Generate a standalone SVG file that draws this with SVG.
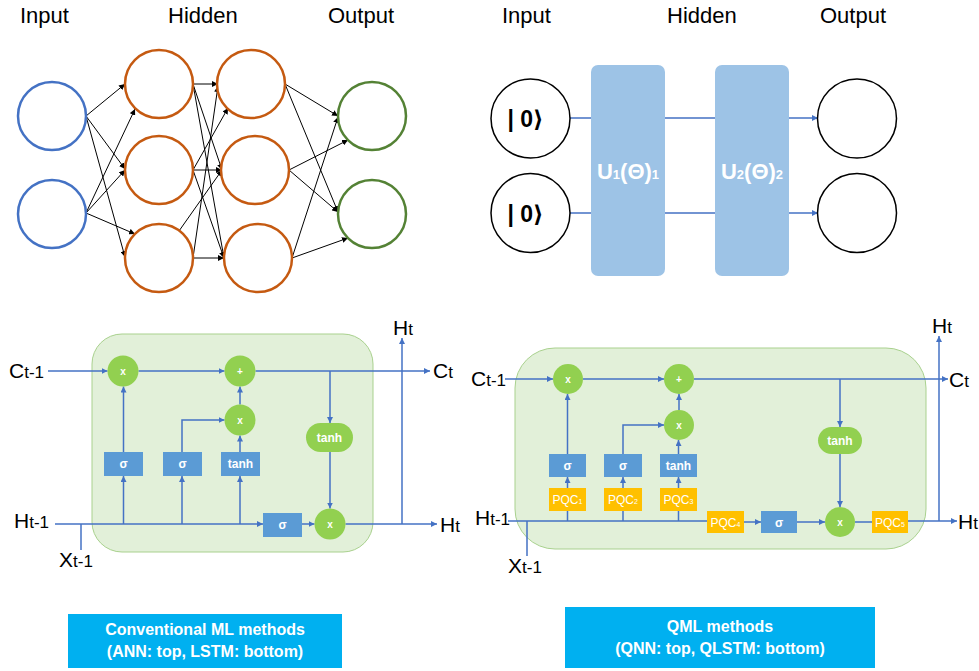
<svg xmlns="http://www.w3.org/2000/svg" width="979" height="671" viewBox="0 0 979 671">
<style>
text{font-family:"Liberation Sans","DejaVu Sans",sans-serif}
.hdr{font-size:22px;fill:#000}
.in{fill:#fff;stroke:#4472C4;stroke-width:2.5}
.hid{fill:#fff;stroke:#C55A11;stroke-width:2.5}
.out{fill:#fff;stroke:#548235;stroke-width:2.5}
.ann line{stroke:#000;stroke-width:1}
.q{fill:#fff;stroke:#000;stroke-width:1.5}
.ket{font-size:23px;font-weight:bold;text-anchor:middle}
.gate{fill:#9DC3E6}
.gt{font-size:22px;font-weight:bold;fill:#fff;text-anchor:middle}
.wire{stroke:#4472C4;stroke-width:1.5;fill:none}
.cell{fill:#E2F0D9;stroke:#A9D18E;stroke-width:1}
.op{fill:#92D050}
.opt{font-size:10px;font-weight:bold;fill:#fff;text-anchor:middle}
.box{fill:#5B9BD5}
.bt{font-size:12px;font-weight:bold;fill:#fff;text-anchor:middle}
.pqc{fill:#FFC000}
.pt{font-size:12px;fill:#fff;text-anchor:middle}
.lab{font-size:21px;fill:#000}
.sub{font-size:17px}
.cap{fill:#00B0F0}
.ct{font-size:16px;font-weight:bold;fill:#fff;text-anchor:middle}
</style>
<defs>
<marker id="ab" viewBox="0 0 6 6" refX="6" refY="3" markerWidth="6" markerHeight="6" markerUnits="userSpaceOnUse" orient="auto"><path d="M0,0 L6,3 L0,6 z" fill="#000"/></marker>
<marker id="aq" viewBox="0 0 6 6" refX="6" refY="3" markerWidth="6" markerHeight="6" markerUnits="userSpaceOnUse" orient="auto"><path d="M0,0 L6,3 L0,6 z" fill="#4472C4"/></marker>
</defs>

<!-- ANN -->
<g id="ann-headers">
<text class="hdr" x="20" y="23">Input</text>
<text class="hdr" x="168" y="23">Hidden</text>
<text class="hdr" x="328" y="23">Output</text>
</g>
<g id="ann-connectors" class="ann">
<line x1="86" y1="116" x2="125" y2="84" marker-end="url(#ab)"/>
<line x1="86" y1="116" x2="125" y2="169" marker-end="url(#ab)"/>
<line x1="86" y1="116" x2="125" y2="257" marker-end="url(#ab)"/>
<line x1="86" y1="213" x2="135" y2="109" marker-end="url(#ab)"/>
<line x1="86" y1="213" x2="125" y2="170" marker-end="url(#ab)"/>
<line x1="86" y1="213" x2="135" y2="234" marker-end="url(#ab)"/>
<line x1="193" y1="84" x2="218" y2="84" marker-end="url(#ab)"/>
<line x1="193" y1="84" x2="222" y2="170" marker-end="url(#ab)"/>
<line x1="193" y1="84" x2="224" y2="258" marker-end="url(#ab)"/>
<line x1="193" y1="170" x2="228" y2="108" marker-end="url(#ab)"/>
<line x1="193" y1="170" x2="222" y2="170" marker-end="url(#ab)"/>
<line x1="193" y1="170" x2="224" y2="258" marker-end="url(#ab)"/>
<line x1="179" y1="231" x2="222" y2="170" marker-end="url(#ab)"/>
<line x1="193" y1="258" x2="218" y2="86" marker-end="url(#ab)"/>
<line x1="193" y1="258" x2="224" y2="258" marker-end="url(#ab)"/>
<line x1="285" y1="84" x2="338" y2="116" marker-end="url(#ab)"/>
<line x1="285" y1="84" x2="338" y2="212" marker-end="url(#ab)"/>
<line x1="289" y1="170" x2="348" y2="140" marker-end="url(#ab)"/>
<line x1="289" y1="170" x2="338" y2="212" marker-end="url(#ab)"/>
<line x1="292" y1="258" x2="338" y2="117" marker-end="url(#ab)"/>
<line x1="292" y1="258" x2="348" y2="238" marker-end="url(#ab)"/>
</g>
<g id="ann-in1"><circle class="in" cx="52" cy="116" r="34"/></g>
<g id="ann-in2"><circle class="in" cx="52" cy="214" r="34"/></g>
<g id="ann-h11"><circle class="hid" cx="159" cy="84" r="34"/></g>
<g id="ann-h12"><circle class="hid" cx="159" cy="170" r="34"/></g>
<g id="ann-h13"><circle class="hid" cx="159" cy="258" r="34"/></g>
<g id="ann-h21"><circle class="hid" cx="251" cy="84" r="34"/></g>
<g id="ann-h22"><circle class="hid" cx="255" cy="170" r="34"/></g>
<g id="ann-h23"><circle class="hid" cx="258" cy="258" r="34"/></g>
<g id="ann-o1"><circle class="out" cx="372" cy="116" r="34"/></g>
<g id="ann-o2"><circle class="out" cx="372" cy="214" r="34"/></g>

<!-- QNN -->
<g id="qnn-headers">
<text class="hdr" x="502" y="23">Input</text>
<text class="hdr" x="667" y="23">Hidden</text>
<text class="hdr" x="820" y="23">Output</text>
</g>
<g id="qnn-connectors">
<path class="wire" d="M570,118 H591 M665,118 H715 M570,213 H591 M665,213 H715"/>
<path class="wire" d="M789,118 H818" marker-end="url(#aq)"/>
<path class="wire" d="M789,213 H818" marker-end="url(#aq)"/>
</g>
<g id="qnn-q1"><circle class="q" cx="530.5" cy="118.5" r="39.5"/><text class="ket" x="525.5" y="127">| 0⟩</text></g>
<g id="qnn-q2"><circle class="q" cx="530.5" cy="213" r="39.5"/><text class="ket" x="525.5" y="222">| 0⟩</text></g>
<g id="qnn-u1"><rect class="gate" x="591" y="65" width="74" height="211" rx="7"/><text class="gt" x="628" y="179">U<tspan font-size="13">1</tspan>(Θ)<tspan font-size="13">1</tspan></text></g>
<g id="qnn-u2"><rect class="gate" x="715" y="65" width="74" height="211" rx="7"/><text class="gt" x="752" y="179">U<tspan font-size="13">2</tspan>(Θ)<tspan font-size="13">2</tspan></text></g>
<g id="qnn-o1"><circle class="q" cx="857" cy="118.5" r="39.5"/></g>
<g id="qnn-o2"><circle class="q" cx="857" cy="213" r="39.5"/></g>

<!-- LSTM -->
<g id="lstm-cell"><rect class="cell" x="92" y="334" width="281" height="218" rx="30"/></g>
<g id="lstm-connectors">
<path class="wire" d="M48,371 H107.5" marker-end="url(#aq)"/>
<path class="wire" d="M138.5,371 H224.5" marker-end="url(#aq)"/>
<path class="wire" d="M255.5,371 H430" marker-end="url(#aq)"/>
<path class="wire" d="M330,371 V423" marker-end="url(#aq)"/>
<path class="wire" d="M330,452 V508.5" marker-end="url(#aq)"/>
<path class="wire" d="M240,404.5 V386.5" marker-end="url(#aq)"/>
<path class="wire" d="M123.5,452 V386.5" marker-end="url(#aq)"/>
<path class="wire" d="M182,452 V420 H224.5" marker-end="url(#aq)"/>
<path class="wire" d="M240,452 V435.5" marker-end="url(#aq)"/>
<path class="wire" d="M55,524 H263" marker-end="url(#aq)"/>
<path class="wire" d="M302,524 H314.5" marker-end="url(#aq)"/>
<path class="wire" d="M345.5,524 H437" marker-end="url(#aq)"/>
<path class="wire" d="M123.5,524 V476" marker-end="url(#aq)"/>
<path class="wire" d="M182,524 V476" marker-end="url(#aq)"/>
<path class="wire" d="M240,524 V476" marker-end="url(#aq)"/>
<path class="wire" d="M402,524 V338" marker-end="url(#aq)"/>
<path class="wire" d="M81,524 V550"/>
</g>
<g id="lstm-mul1"><circle class="op" cx="123" cy="371" r="15.5"/><text class="opt" x="123" y="375">x</text></g>
<g id="lstm-add"><circle class="op" cx="240" cy="371" r="15.5"/><text class="opt" x="240" y="375">+</text></g>
<g id="lstm-mul2"><circle class="op" cx="240" cy="420" r="15.5"/><text class="opt" x="240" y="424">x</text></g>
<g id="lstm-mul3"><circle class="op" cx="330" cy="524" r="15.5"/><text class="opt" x="330" y="528">x</text></g>
<g id="lstm-tanh2"><rect class="op" x="306" y="423" width="47" height="29" rx="14.5"/><text class="bt" x="329.5" y="442">tanh</text></g>
<g id="lstm-sig1"><rect class="box" x="104" y="452" width="39" height="24"/><text class="bt" x="123.5" y="468">σ</text></g>
<g id="lstm-sig2"><rect class="box" x="163" y="452" width="39" height="24"/><text class="bt" x="182.5" y="468">σ</text></g>
<g id="lstm-tanh1"><rect class="box" x="221" y="452" width="39" height="24"/><text class="bt" x="240.5" y="468">tanh</text></g>
<g id="lstm-sig3"><rect class="box" x="263" y="513" width="39" height="24"/><text class="bt" x="282.5" y="529">σ</text></g>
<g id="lstm-labels">
<text class="lab" x="9" y="378">C<tspan class="sub">t-1</tspan></text>
<text class="lab" x="433" y="378">C<tspan class="sub">t</tspan></text>
<text class="lab" x="14" y="528">H<tspan class="sub">t-1</tspan></text>
<text class="lab" x="440" y="532">H<tspan class="sub">t</tspan></text>
<text class="lab" x="393" y="335">H<tspan class="sub">t</tspan></text>
<text class="lab" x="59" y="567">X<tspan class="sub">t-1</tspan></text>
</g>

<!-- QLSTM -->
<g id="qlstm-cell"><rect class="cell" x="515" y="348" width="411" height="201" rx="40"/></g>
<g id="qlstm-connectors">
<path class="wire" d="M505,379 H553" marker-end="url(#aq)"/>
<path class="wire" d="M583,379 H664" marker-end="url(#aq)"/>
<path class="wire" d="M694,379 H948" marker-end="url(#aq)"/>
<path class="wire" d="M840,379 V427" marker-end="url(#aq)"/>
<path class="wire" d="M840,454 V507" marker-end="url(#aq)"/>
<path class="wire" d="M679,410 V394" marker-end="url(#aq)"/>
<path class="wire" d="M567.5,454 V394" marker-end="url(#aq)"/>
<path class="wire" d="M623,454 V425 H664" marker-end="url(#aq)"/>
<path class="wire" d="M678.5,454 V440" marker-end="url(#aq)"/>
<path class="wire" d="M567.5,488 V477" marker-end="url(#aq)"/>
<path class="wire" d="M623,488 V477" marker-end="url(#aq)"/>
<path class="wire" d="M678.5,488 V477" marker-end="url(#aq)"/>
<path class="wire" d="M508,521 H707 M567.5,521 V511 M623,521 V511 M678.5,521 V511 M527,521 V556 M855,522 H872"/>
<path class="wire" d="M744,522 H761" marker-end="url(#aq)"/>
<path class="wire" d="M797,522 H825" marker-end="url(#aq)"/>
<path class="wire" d="M908,521 H957" marker-end="url(#aq)"/>
<path class="wire" d="M939,521 V336" marker-end="url(#aq)"/>
</g>
<g id="qlstm-mul1"><circle class="op" cx="568" cy="379" r="15"/><text class="opt" x="568" y="383">x</text></g>
<g id="qlstm-add"><circle class="op" cx="679" cy="379" r="15"/><text class="opt" x="679" y="383">+</text></g>
<g id="qlstm-mul2"><circle class="op" cx="679" cy="425" r="15"/><text class="opt" x="679" y="429">x</text></g>
<g id="qlstm-mul3"><circle class="op" cx="840" cy="522" r="15"/><text class="opt" x="840" y="526">x</text></g>
<g id="qlstm-tanh2"><rect class="op" x="818" y="427" width="44" height="27" rx="13.5"/><text class="bt" x="840" y="445">tanh</text></g>
<g id="qlstm-sig1"><rect class="box" x="549" y="454" width="37" height="23"/><text class="bt" x="567.5" y="470">σ</text></g>
<g id="qlstm-sig2"><rect class="box" x="604" y="454" width="38" height="23"/><text class="bt" x="623" y="470">σ</text></g>
<g id="qlstm-tanh1"><rect class="box" x="660" y="454" width="37" height="23"/><text class="bt" x="678.5" y="470">tanh</text></g>
<g id="qlstm-sig3"><rect class="box" x="761" y="511" width="36" height="22"/><text class="bt" x="779" y="527">σ</text></g>
<g id="qlstm-pqc1"><rect class="pqc" x="549" y="488" width="37" height="23"/><text class="pt" x="567.5" y="504">PQC<tspan font-size="7">1</tspan></text></g>
<g id="qlstm-pqc2"><rect class="pqc" x="604" y="488" width="38" height="23"/><text class="pt" x="623" y="504">PQC<tspan font-size="7">2</tspan></text></g>
<g id="qlstm-pqc3"><rect class="pqc" x="660" y="488" width="37" height="23"/><text class="pt" x="678.5" y="504">PQC<tspan font-size="7">3</tspan></text></g>
<g id="qlstm-pqc4"><rect class="pqc" x="707" y="511" width="37" height="22"/><text class="pt" x="725.5" y="527">PQC<tspan font-size="7">4</tspan></text></g>
<g id="qlstm-pqc5"><rect class="pqc" x="872" y="511" width="36" height="22"/><text class="pt" x="890" y="527">PQC<tspan font-size="7">5</tspan></text></g>
<g id="qlstm-labels">
<text class="lab" x="471" y="386">C<tspan class="sub">t-1</tspan></text>
<text class="lab" x="949" y="387">C<tspan class="sub">t</tspan></text>
<text class="lab" x="475" y="525">H<tspan class="sub">t-1</tspan></text>
<text class="lab" x="958" y="529">H<tspan class="sub">t</tspan></text>
<text class="lab" x="932" y="333">H<tspan class="sub">t</tspan></text>
<text class="lab" x="508" y="573">X<tspan class="sub">t-1</tspan></text>
</g>

<!-- Captions -->
<g id="caption-conventional"><rect class="cap" x="68" y="614" width="274" height="54"/>
<text class="ct" x="205" y="635">Conventional ML methods</text>
<text class="ct" x="205" y="657">(ANN: top, LSTM: bottom)</text></g>
<g id="caption-qml"><rect class="cap" x="565" y="607" width="310" height="61"/>
<text class="ct" x="720" y="632">QML methods</text>
<text class="ct" x="720" y="654">(QNN: top, QLSTM: bottom)</text></g>
</svg>
